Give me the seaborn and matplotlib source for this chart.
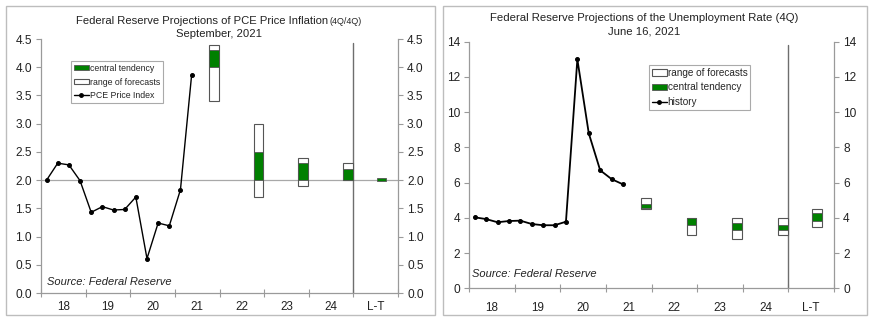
import matplotlib
matplotlib.use("Agg")
import matplotlib.pyplot as plt
from matplotlib.patches import Rectangle, Patch
from matplotlib.lines import Line2D
import seaborn as sns

sns.set_theme(style="white")
plt.rcParams['font.family'] = ['Liberation Sans', 'DejaVu Sans']

# ---------------- data ----------------
section_labels = ['18', '19', '20', '21', '22', '23', '24', 'L-T']
quarters = ['2018Q1', '2018Q2', '2018Q3', '2018Q4',
            '2019Q1', '2019Q2', '2019Q3', '2019Q4',
            '2020Q1', '2020Q2', '2020Q3', '2020Q4',
            '2021Q1', '2021Q2']
forecast_labels = ['21', '22', '23', '24', 'L-T']

# PCE price inflation (left)
pce_history = [2.0, 2.30, 2.27, 1.99, 1.43, 1.53, 1.47, 1.48,
               1.70, 0.61, 1.24, 1.19, 1.83, 3.86]
pce_range_lo = [3.4, 1.7, 1.9, 2.0, 2.0]
pce_range_hi = [4.4, 3.0, 2.4, 2.3, 2.0]
pce_ct_lo = [4.0, 2.0, 2.0, 2.0, 1.98]
pce_ct_hi = [4.3, 2.5, 2.3, 2.2, 2.03]

# Unemployment rate (right)
unemp_history = [4.03, 3.93, 3.75, 3.82, 3.84, 3.65, 3.58, 3.58,
                 3.78, 13.0, 8.8, 6.7, 6.2, 5.9]
un_range_lo = [4.5, 3.0, 2.8, 3.0, 3.5]
un_range_hi = [5.1, 4.0, 4.0, 4.0, 4.5]
un_ct_lo = [4.55, 3.6, 3.3, 3.3, 3.8]
un_ct_hi = [4.8, 4.0, 3.7, 3.6, 4.3]

# ---------------- layout ----------------
W, H = 874, 321
fig = plt.figure(figsize=(W / 100, H / 100), dpi=100)

GREEN = '#008000'
EDGE = '#555555'
SPINE = '#9a9a9a'
TXT = '#222222'


def fx(px):
    return px / W


def fy(py):
    return 1 - py / H


def quarter_x(label):
    year = int(label[:4]) - 2018
    q = int(label[-1]) - 1
    return year * 4 + q + 0.5


def forecast_x(label):
    idx = section_labels.index(label)
    off = 2.5 if label == 'L-T' else 3.5
    return idx * 4 + off


def panel(ax, hist, rlo, rhi, clo, chi, ymax, ystep, fmt, hline, xpad, lw):
    xs = [quarter_x(q) for q in quarters]
    fxs = [forecast_x(f) for f in forecast_labels]
    if hline is not None:
        ax.axhline(hline, color='#a8a8a8', lw=0.9, zorder=1)
    ax.axvline(28, color='#6e6e6e', lw=1.0, ymax=0.985, zorder=1)
    ax.bar(fxs, [h - l for h, l in zip(rhi, rlo)], bottom=rlo, width=0.85,
           color='white', edgecolor=EDGE, linewidth=0.8, zorder=2)
    ax.bar(fxs, [h - l for h, l in zip(chi, clo)], bottom=clo, width=0.85,
           color=GREEN, edgecolor=EDGE, linewidth=0.6, zorder=3)
    sns.lineplot(x=xs, y=hist, ax=ax, color='black', lw=lw, marker='o',
                 markersize=2.8, markeredgecolor='black', zorder=4)
    ax.set_xlim(0, 32)
    ax.set_ylim(0, ymax)
    yt = [i * ystep for i in range(int(round(ymax / ystep)) + 1)]
    ax.set_yticks(yt)
    ax.set_yticklabels([fmt.format(v) for v in yt])
    ax.tick_params(axis='y', which='major', left=True, right=True,
                   labelleft=True, labelright=True, direction='out',
                   length=3.5, width=0.8, color=SPINE, labelsize=8.6,
                   labelcolor=TXT, pad=3)
    ax.set_xticks(range(0, 33, 4))
    ax.set_xticklabels([])
    ax.set_xticks([i * 4 + 2 for i in range(8)], minor=True)
    ax.set_xticklabels(section_labels, minor=True)
    ax.tick_params(axis='x', which='major', bottom=True, direction='inout',
                   length=6, width=0.8, color=SPINE)
    ax.tick_params(axis='x', which='minor', bottom=True, length=0,
                   labelsize=8.4, labelcolor=TXT, pad=xpad)
    for s in ['left', 'right', 'bottom']:
        ax.spines[s].set_visible(True)
        ax.spines[s].set_color(SPINE)
        ax.spines[s].set_linewidth(0.9)
    ax.spines['top'].set_visible(False)
    ax.set_facecolor('none')
    ax.set_xlabel('')
    ax.set_ylabel('')


# left panel
axL = fig.add_axes([fx(41), fy(293), fx(398 - 41), (293 - 39) / H])
panel(axL, pce_history, pce_range_lo, pce_range_hi, pce_ct_lo, pce_ct_hi,
      4.5, 0.5, '{:.1f}', 2.0, 6, 1.0)

# right panel
axR = fig.add_axes([fx(469), fy(288.3), fx(834 - 469), (288.3 - 41.7) / H])
panel(axR, unemp_history, un_range_lo, un_range_hi, un_ct_lo, un_ct_hi,
      14, 2, '{:.0f}', None, 10, 1.3)

# borders
fig.add_artist(Rectangle((fx(6), fy(315)), fx(435 - 6), (315 - 6) / H,
                         transform=fig.transFigure, fill=False,
                         edgecolor='#bdbdbd', lw=1.0))
fig.add_artist(Rectangle((fx(443), fy(315)), fx(867 - 443), (315 - 6) / H,
                         transform=fig.transFigure, fill=False,
                         edgecolor='#bdbdbd', lw=1.0))

# titles
fig.text(fx(328), fy(21), 'Federal Reserve Projections of PCE Price Inflation',
         ha='right', va='center', fontsize=8.1, color=TXT)
fig.text(fx(330), fy(21.5), '(4Q/4Q)', ha='left', va='center',
         fontsize=6.4, color=TXT)
fig.text(fx(219.5), fy(34), 'September, 2021', ha='center', va='center',
         fontsize=8.1, color=TXT)
fig.text(fx(644), fy(18), 'Federal Reserve Projections of the Unemployment Rate (4Q)',
         ha='center', va='center', fontsize=8.2, color=TXT)
fig.text(fx(644), fy(31), 'June 16, 2021', ha='center', va='center',
         fontsize=8.2, color=TXT)

# source notes
fig.text(fx(47), fy(282), 'Source: Federal Reserve', ha='left', va='center',
         fontsize=8, style='italic', color=TXT)
fig.text(fx(472), fy(274), 'Source: Federal Reserve', ha='left', va='center',
         fontsize=8, style='italic', color=TXT)

# legends
h_ct = Patch(facecolor=GREEN, edgecolor=EDGE, lw=0.6)
h_rg = Patch(facecolor='white', edgecolor=EDGE, lw=0.8)
h_ln = Line2D([], [], color='black', lw=1.0, marker='o', markersize=2.5)

legL = fig.legend([h_ct, h_rg, h_ln],
                  ['central tendency', 'range of forecasts', 'PCE Price Index'],
                  loc='upper left', bbox_to_anchor=(fx(70.7), fy(60.7)),
                  bbox_transform=fig.transFigure, fontsize=6.3,
                  frameon=True, fancybox=False, edgecolor='#aaaaaa',
                  framealpha=1, borderpad=0.35, labelspacing=0.55,
                  handlelength=1.7, handleheight=0.6, handletextpad=0.15,
                  borderaxespad=0)
legL.get_frame().set_linewidth(0.8)

legR = fig.legend([h_rg, h_ct, h_ln],
                  ['range of forecasts', 'central tendency', 'history'],
                  loc='upper left', bbox_to_anchor=(fx(648.7), fy(65)),
                  bbox_transform=fig.transFigure, fontsize=7.2,
                  frameon=True, fancybox=False, edgecolor='#aaaaaa',
                  framealpha=1, borderpad=0.3, labelspacing=0.45,
                  handlelength=1.5, handleheight=0.6, handletextpad=0.1,
                  borderaxespad=0)
legR.get_frame().set_linewidth(0.8)

fig.savefig('out.png', dpi=100, facecolor='white')
